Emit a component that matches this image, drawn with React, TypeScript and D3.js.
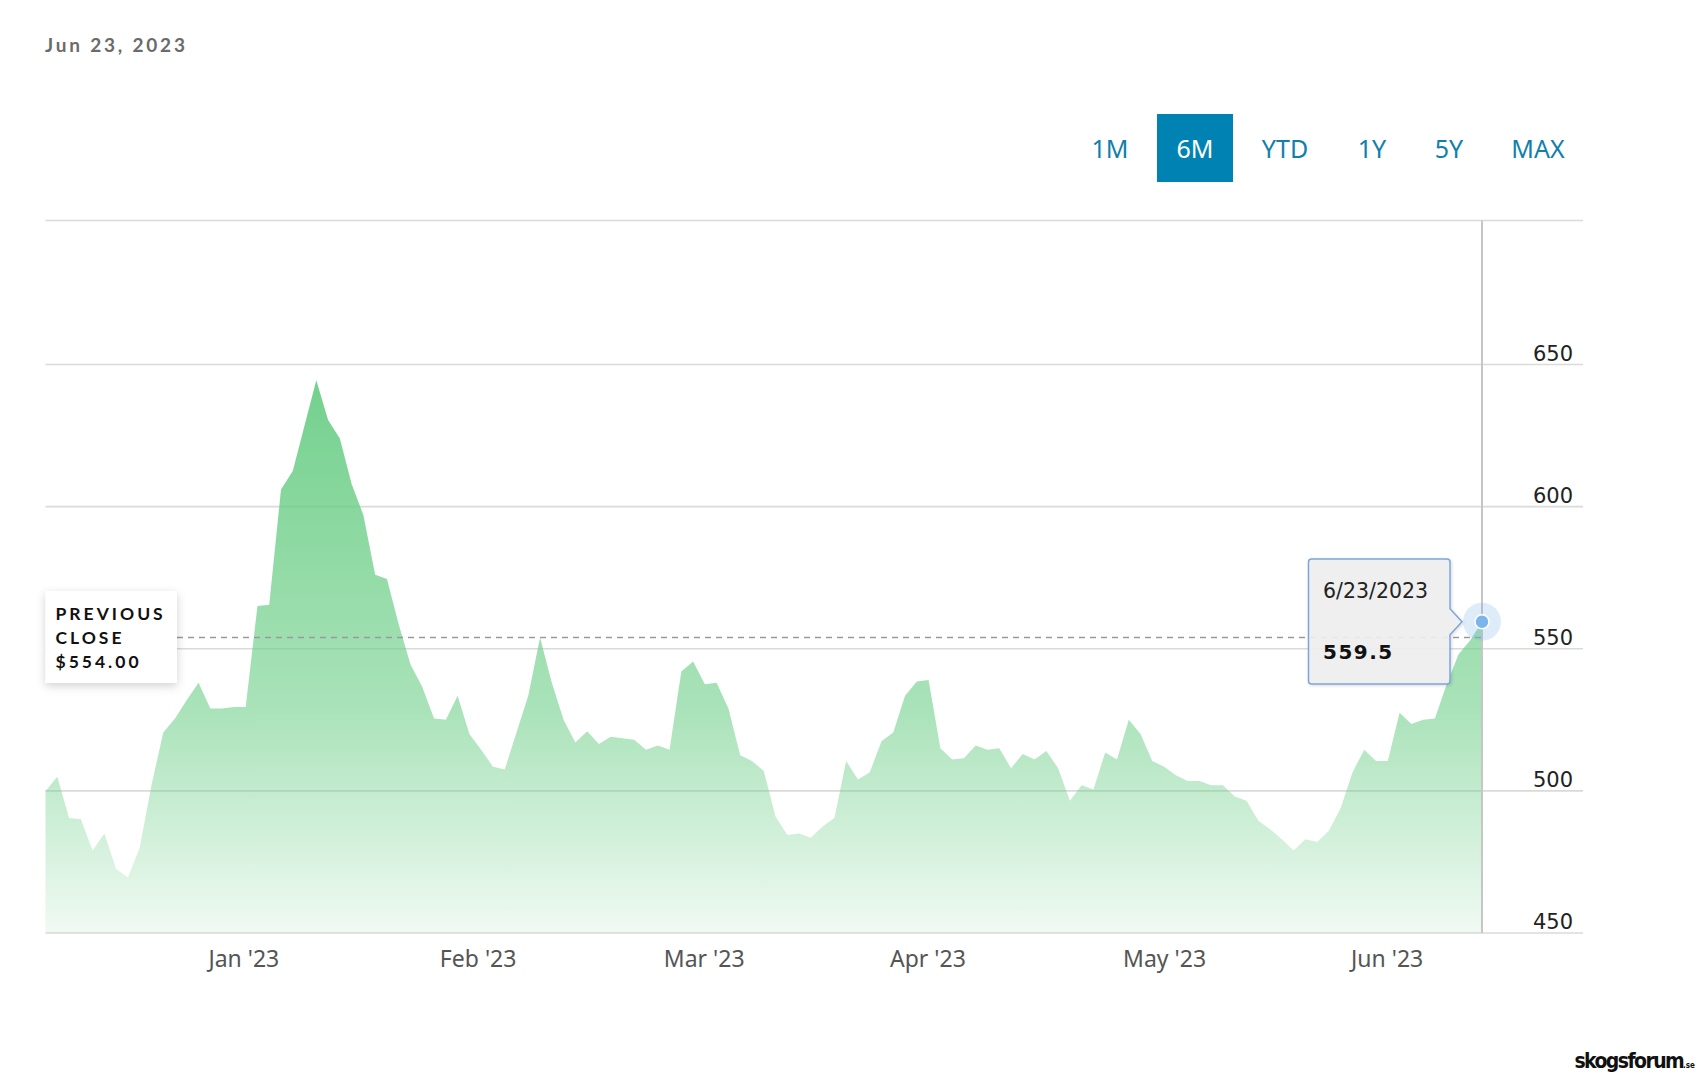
import { useEffect, useRef } from 'react';
import * as d3 from 'd3';

// daily closes, oldest first (last point = 6/23/2023)
const prices = [
  500, 505, 490.5, 490, 479, 485, 472.5, 469.5, 480, 502,
  520.5, 525.5, 532, 538, 529, 529, 529.5, 529.5, 565, 565.5,
  606, 612.5, 628.5, 644.5, 630.5, 624, 608, 597, 576, 574.5,
  558.5, 544.5, 536.5, 525.5, 525, 533.5, 520, 514.5, 508.5, 507.5,
  520.5, 533.5, 554, 538, 525, 517, 521, 516.5, 519, 518.5,
  518, 514.5, 516, 514.5, 542, 545.5, 537.5, 538, 529, 512.5,
  510.5, 507, 491, 484.5, 485, 483.5, 487.5, 490.5, 510.5, 504,
  506.5, 517.5, 520.5, 533.5, 538.5, 539, 515, 511, 511.5, 516,
  514.5, 515, 508, 513, 511, 514, 508, 496.5, 502, 500.5,
  513.5, 511, 525, 520, 510.5, 508.5, 505.5, 503.5, 503.5, 502,
  502, 498, 496.5, 489.5, 486.5, 483, 479, 483, 482, 486,
  494, 506.5, 514.5, 510.5, 510.5, 527.5, 523.5, 525, 525.5, 537.5,
  548, 553, 559.5,
];

const monthLabels = ["Jan '23", "Feb '23", "Mar '23", "Apr '23", "May '23", "Jun '23"];
const monthTickIndex = [16.8, 36.7, 55.9, 74.9, 95.0, 113.9];
const priceTicks = [450, 500, 550, 600, 650, 700];
const rangeButtons = ['1M', '6M', 'YTD', '1Y', '5Y', 'MAX'];
const activeRange = '6M';
const previousClose = 554;
const headerDate = 'Jun 23, 2023';
const lastDate = '6/23/2023';

// layout
const W = 1700;
const H = 1078;
const buttonCenters = [1110, 1195, 1285, 1372, 1449, 1538];

export default function App() {
  const svgRef = useRef<SVGSVGElement>(null);

  useEffect(() => {
    const svg = d3.select(svgRef.current);
    svg.selectAll('*').remove();

    const left = 45.5;
    const right = 1583;
    const lastX = 1482;
    const plotTop = 220.5;

    const x = d3.scaleLinear().domain([0, prices.length - 1]).range([left, lastX]);
    const y = d3.scaleLinear().domain([450, 650]).range([933, 364.5]);

    const defs = svg.append('defs');
    const grad = defs.append('linearGradient')
      .attr('id', 'areaFill')
      .attr('x1', 0).attr('y1', 0).attr('x2', 0).attr('y2', 1);
    [[0, 0.95], [0.6, 0.58], [1, 0.1]].forEach(([o, a]) => {
      grad.append('stop')
        .attr('offset', o)
        .attr('stop-color', '#6cce87')
        .attr('stop-opacity', a);
    });

    const shadow = defs.append('filter')
      .attr('id', 'boxShadow')
      .attr('x', '-30%').attr('y', '-30%').attr('width', '160%').attr('height', '160%');
    shadow.append('feDropShadow')
      .attr('dx', 0).attr('dy', 3).attr('stdDeviation', 5)
      .attr('flood-color', '#000').attr('flood-opacity', 0.18);

    const tipShadow = defs.append('filter')
      .attr('id', 'tipShadow')
      .attr('x', '-20%').attr('y', '-20%').attr('width', '140%').attr('height', '140%');
    tipShadow.append('feDropShadow')
      .attr('dx', 1).attr('dy', 1).attr('stdDeviation', 1.5)
      .attr('flood-color', '#000').attr('flood-opacity', 0.15);

    // header date
    svg.append('text')
      .attr('x', 45)
      .attr('y', 51.5)
      .style('font-family', 'Lato, sans-serif')
      .style('font-size', '19px')
      .style('font-weight', 'bold')
      .style('letter-spacing', '2.8px')
      .style('fill', '#6b6b6b')
      .text(headerDate);

    // range buttons
    const btn = svg.append('g')
      .selectAll('g')
      .data(rangeButtons)
      .enter().append('g');
    btn.filter(d => d === activeRange)
      .append('rect')
      .attr('x', d => buttonCenters[rangeButtons.indexOf(d)] - 38)
      .attr('y', 114)
      .attr('width', 76)
      .attr('height', 68)
      .attr('fill', '#0083b3');
    btn.append('text')
      .attr('x', (d, i) => buttonCenters[i])
      .attr('y', 158)
      .attr('text-anchor', 'middle')
      .style('font-family', '"Noto Sans", sans-serif')
      .style('font-size', '25px')
      .style('fill', d => (d === activeRange ? '#ffffff' : '#117fab'))
      .text(d => d);

    // grid lines (the top one is the plot border)
    svg.append('g')
      .selectAll('line')
      .data(priceTicks)
      .enter().append('line')
      .attr('x1', left)
      .attr('x2', right)
      .attr('y1', d => (d === 700 ? plotTop : y(d)))
      .attr('y2', d => (d === 700 ? plotTop : y(d)))
      .style('stroke', '#dadada')
      .style('stroke-width', 1.6);

    // y labels (top tick has no label)
    svg.append('g')
      .selectAll('text')
      .data(priceTicks.filter(d => d < 700))
      .enter().append('text')
      .attr('x', 1573)
      .attr('y', d => y(d) - 4)
      .attr('text-anchor', 'end')
      .style('font-family', '"DejaVu Sans", sans-serif')
      .style('font-size', '21px')
      .style('fill', '#222')
      .text(d => d);

    // area
    const area = d3.area<number>()
      .x((d, i) => x(i))
      .y0(y(450))
      .y1(d => y(d));
    svg.append('path')
      .datum(prices)
      .attr('d', area)
      .attr('fill', 'url(#areaFill)');

    // x labels
    const xAxis = svg.append('g')
      .attr('transform', `translate(0,${y(450)})`)
      .call(
        d3.axisBottom(x)
          .tickValues(monthTickIndex)
          .tickSize(0)
          .tickPadding(18)
          .tickFormat((d, i) => monthLabels[i])
      );
    xAxis.select('.domain').remove();
    xAxis.selectAll('text')
      .style('font-family', '"Noto Sans", sans-serif')
      .style('font-size', '23px')
      .style('fill', '#555');

    // crosshair
    svg.append('line')
      .attr('x1', lastX).attr('x2', lastX)
      .attr('y1', plotTop).attr('y2', y(450))
      .style('stroke', '#c6c6c6')
      .style('stroke-width', 2);

    // previous close line + box
    const boxRight = 177;
    svg.append('line')
      .attr('x1', boxRight)
      .attr('x2', lastX)
      .attr('y1', y(previousClose))
      .attr('y2', y(previousClose))
      .style('stroke', '#9a9a9a')
      .style('stroke-width', 1.5)
      .style('stroke-dasharray', '6,5');

    svg.append('rect')
      .attr('x', left)
      .attr('y', 591)
      .attr('width', boxRight - left)
      .attr('height', 92)
      .attr('fill', '#fff')
      .attr('filter', 'url(#boxShadow)');

    const pcText = svg.append('text')
      .style('font-family', 'Lato, sans-serif')
      .style('font-size', '17.5px')
      .style('font-weight', 'bold')
      .style('letter-spacing', '3px')
      .style('fill', '#111');
    ['PREVIOUS', 'CLOSE', `$${previousClose.toFixed(2)}`].forEach((t, i) => {
      pcText.append('tspan')
        .attr('x', 55.5)
        .attr('y', 620 + i * 24)
        .text(t);
    });

    // tooltip
    const last = prices[prices.length - 1];
    const px = x(prices.length - 1);
    const py = y(last);
    const bx0 = 1308.5, bx1 = 1450, by0 = 559, by1 = 684, r = 3;
    const tip = d3.path();
    tip.moveTo(bx0 + r, by0);
    tip.lineTo(bx1 - r, by0);
    tip.arcTo(bx1, by0, bx1, by0 + r, r);
    tip.lineTo(bx1, py - 13);
    tip.lineTo(bx1 + 12, py);
    tip.lineTo(bx1, py + 13);
    tip.lineTo(bx1, by1 - r);
    tip.arcTo(bx1, by1, bx1 - r, by1, r);
    tip.lineTo(bx0 + r, by1);
    tip.arcTo(bx0, by1, bx0, by1 - r, r);
    tip.lineTo(bx0, by0 + r);
    tip.arcTo(bx0, by0, bx0 + r, by0, r);
    tip.closePath();
    svg.append('path')
      .attr('d', tip.toString())
      .attr('fill', 'rgba(240,240,240,0.9)')
      .attr('stroke', '#7ca6d8')
      .attr('stroke-width', 1.5)
      .attr('filter', 'url(#tipShadow)');

    svg.append('text')
      .attr('x', 1323)
      .attr('y', 597.5)
      .style('font-family', '"DejaVu Sans", sans-serif')
      .style('font-size', '20.5px')
      .style('fill', '#222')
      .text(lastDate);
    svg.append('text')
      .attr('x', 1323)
      .attr('y', 659)
      .style('font-family', '"DejaVu Sans", sans-serif')
      .style('font-size', '20px')
      .style('font-weight', 'bold')
      .style('letter-spacing', '1.5px')
      .style('fill', '#111')
      .text(String(last));

    // hover marker
    svg.append('circle')
      .attr('cx', px).attr('cy', py).attr('r', 19)
      .attr('fill', '#7cb5ec').attr('opacity', 0.25);
    svg.append('circle')
      .attr('cx', px).attr('cy', py).attr('r', 7)
      .attr('fill', '#7cb5ec')
      .attr('stroke', '#fff')
      .attr('stroke-width', 1.5);

    // watermark, one text so it is measured as a whole
    const wm = svg.append('text')
      .attr('x', 1695)
      .attr('y', 1068)
      .attr('text-anchor', 'end')
      .style('font-family', '"DejaVu Sans Condensed", "DejaVu Sans", sans-serif')
      .style('font-weight', 'bold')
      .style('fill', '#111');
    wm.append('tspan')
      .style('font-size', '21px')
      .style('letter-spacing', '-1.6px')
      .text('skogsforum');
    wm.append('tspan')
      .style('font-size', '8px')
      .text('.se');
  }, []);

  return (
    <div style={{ position: 'absolute', left: 0, top: 0 }}>
      <svg ref={svgRef} width={W} height={H} style={{ display: 'block', background: '#fff' }} />
    </div>
  );
}
